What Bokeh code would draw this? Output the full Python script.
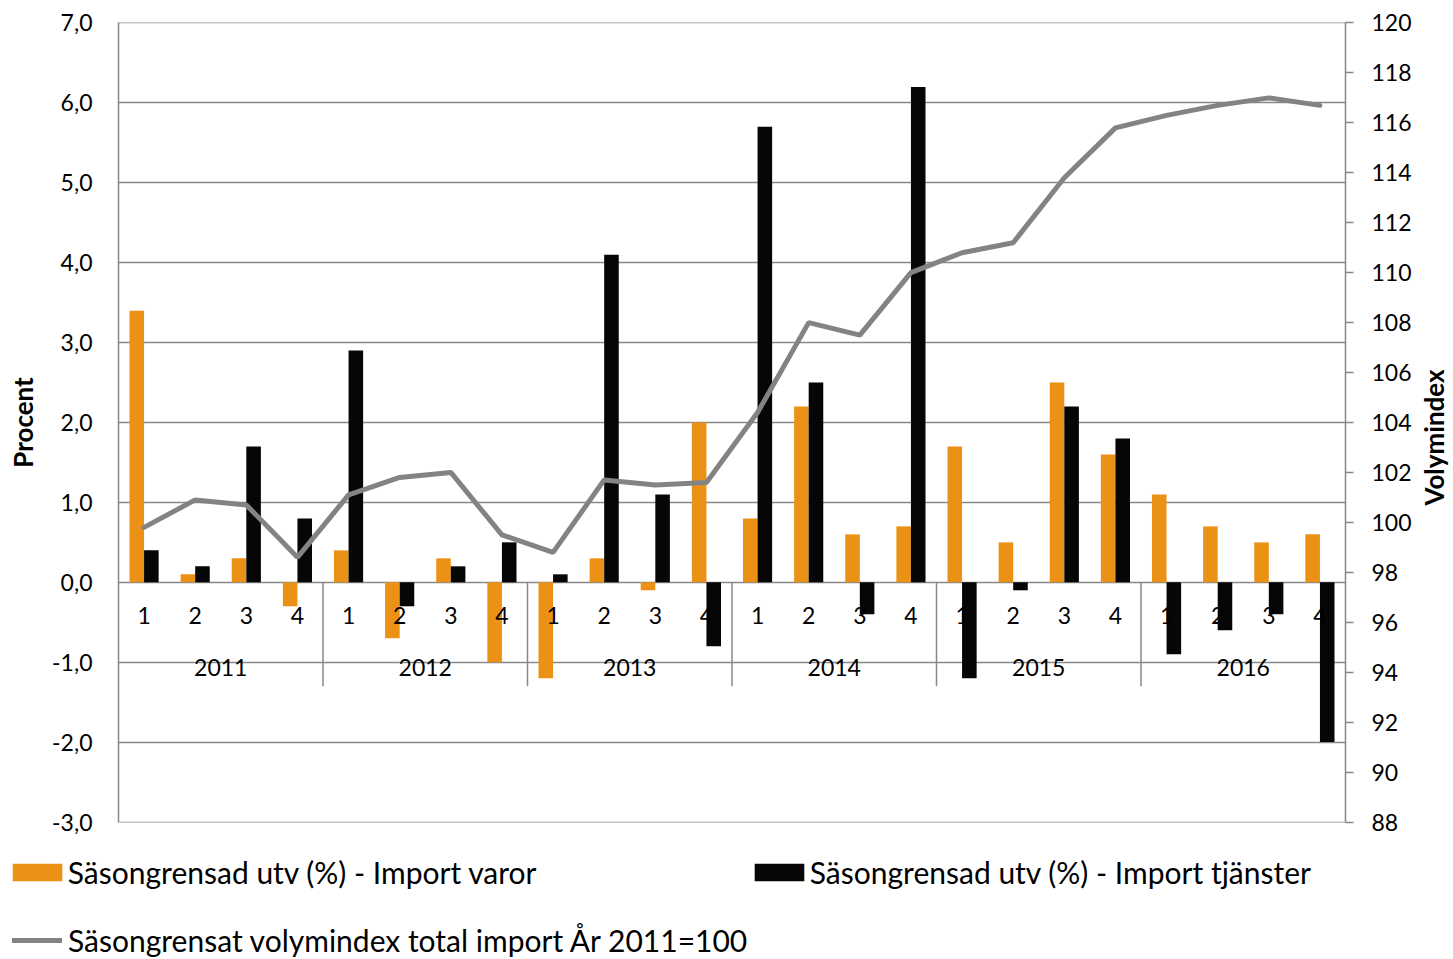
import math
import numpy as np
from bokeh.plotting import figure
from bokeh.layouts import column, row
from bokeh.models import Range1d, LinearAxis, FixedTicker, ColumnDataSource, Legend, LegendItem
from bokeh.core.properties import value
from bokeh.embed import file_html
from bokeh.resources import INLINE

# ---------------- data ----------------
years = ["2011", "2012", "2013", "2014", "2015", "2016"]
quarters = ["1", "2", "3", "4"]
varor = [3.4, 0.1, 0.3, -0.3,
         0.4, -0.7, 0.3, -1.0,
         -1.2, 0.3, -0.1, 2.0,
         0.8, 2.2, 0.6, 0.7,
         1.7, 0.5, 2.5, 1.6,
         1.1, 0.7, 0.5, 0.6]
tjanster = [0.4, 0.2, 1.7, 0.8,
            2.9, -0.3, 0.2, 0.5,
            0.1, 4.1, 1.1, -0.8,
            5.7, 2.5, -0.4, 6.2,
            -1.2, -0.1, 2.2, 1.8,
            -0.9, -0.6, -0.4, -2.0]
volymindex = [99.8, 100.9, 100.7, 98.6,
              101.1, 101.8, 102.0, 99.5,
              98.8, 101.7, 101.5, 101.6,
              104.4, 108.0, 107.5, 110.0,
              110.8, 111.2, 113.8, 115.8,
              116.3, 116.7, 117.0, 116.7]
left_ticks = [-3, -2, -1, 0, 1, 2, 3, 4, 5, 6, 7]
right_ticks = list(range(88, 121, 2))
left_title = "Procent"
right_title = "Volymindex"
label_varor = "Säsongrensad utv (%) - Import varor"
label_tjanster = "Säsongrensad utv (%) - Import tjänster"
label_volym = "Säsongrensat volymindex total import År 2011=100"

# ---------------- style ----------------
ORANGE = "#EB9216"
BLACK = "#060606"
LINE_GREY = "#838383"
GRID = "#898989"
FONT = "Lato"
BAR_W = 0.285
SEP_BOTTOM = -1.3
PAD = 0.006  # tiny range padding so the edge grid lines stay visible

n = len(varor)
xs = np.arange(n)
q_labels = [q for _ in years for q in quarters]
year_x = [i * len(quarters) + (len(quarters) - 1) / 2 for i in range(len(years))]
sep_x = [i * len(quarters) - 0.5 for i in range(1, len(years))]

lmin, lmax = left_ticks[0], left_ticks[-1]
rmin, rmax = right_ticks[0], right_ticks[-1]
rpad = PAD * (rmax - rmin) / (lmax - lmin)

src = ColumnDataSource(dict(x=xs, xo=xs - BAR_W / 2, xb=xs + BAR_W / 2,
                            varor=varor, tjanster=tjanster, vol=volymindex, q=q_labels))
ysrc = ColumnDataSource(dict(x=year_x, t=years))

# ---------------- main chart ----------------
p = figure(width=1418, height=836, x_range=Range1d(-0.5, n - 0.5),
           y_range=Range1d(lmin - PAD, lmax + PAD),
           output_backend="svg", toolbar_location=None, x_axis_type=None,
           min_border_left=118, min_border_right=73, min_border_top=22, min_border_bottom=14)
p.extra_y_ranges = {"vol": Range1d(rmin - rpad, rmax + rpad)}
p.outline_line_color = None

p.ygrid.ticker = FixedTicker(ticks=left_ticks)
p.ygrid.grid_line_color = GRID
p.ygrid.grid_line_width = 1.5

yax = p.yaxis[0]
yax.ticker = FixedTicker(ticks=left_ticks)
yax.major_label_overrides = {t: f"{t:.1f}".replace(".", ",") for t in left_ticks}
yax.major_tick_out = 0
yax.major_tick_in = 0
yax.minor_tick_out = 0
yax.minor_tick_in = 0
yax.major_label_standoff = 26
yax.major_label_text_font = FONT
yax.major_label_text_font_size = "23px"
yax.major_label_text_color = "#000000"
yax.axis_line_color = GRID
yax.axis_line_width = 1.5
yax.axis_label = left_title
yax.axis_label_text_font = FONT
yax.axis_label_text_font_style = "bold"
yax.axis_label_text_font_size = "26px"
yax.axis_label_text_color = "#000000"
yax.axis_label_standoff = 10

rax = LinearAxis(y_range_name="vol", ticker=FixedTicker(ticks=right_ticks))
rax.major_tick_out = 8
rax.major_tick_in = 0
rax.minor_tick_out = 0
rax.minor_tick_in = 0
rax.major_tick_line_color = GRID
rax.major_tick_line_width = 1.5
rax.axis_line_color = GRID
rax.axis_line_width = 1.5
rax.major_label_standoff = 18
rax.major_label_text_font = FONT
rax.major_label_text_font_size = "23px"
rax.major_label_text_color = "#000000"
p.add_layout(rax, "right")

# separators of the category axis
p.segment(x0=sep_x, y0=0, x1=sep_x, y1=SEP_BOTTOM, line_color=GRID, line_width=1.5)

bar_or = dict(fill_color=ORANGE, line_color=None)
bar_bl = dict(fill_color=BLACK, line_color=None)
line_st = dict(line_color=LINE_GREY, line_width=5, line_cap="round")

p.vbar(x="xo", top="varor", bottom=0, width=BAR_W, source=src, **bar_or)
p.vbar(x="xb", top="tjanster", bottom=0, width=BAR_W, source=src, **bar_bl)

p.text(x="x", y=0, text="q", source=src, y_offset=33, text_align="center",
       text_baseline="middle", text_font=value(FONT), text_font_size="23px", text_color="#000000")
p.text(x="x", y=0, text="t", source=ysrc, y_offset=85, text_align="center",
       text_baseline="middle", text_font=value(FONT), text_font_size="23px", text_color="#000000")

p.line(x="x", y="vol", source=src, y_range_name="vol", **line_st)

# ---------------- right axis title strip (reads bottom-to-top) ----------------
tf = figure(width=35, height=836, x_range=Range1d(0, 1), y_range=Range1d(0, 1),
            output_backend="svg", toolbar_location=None, x_axis_type=None, y_axis_type=None,
            min_border_left=0, min_border_right=0, min_border_top=0, min_border_bottom=0)
tf.outline_line_color = None
tf.text(x=[0.5], y=[0.5], text=[right_title], angle=math.pi / 2, x_offset=-2, y_offset=19,
        text_align="center", text_baseline="middle", text_font=value(FONT),
        text_font_style="bold", text_font_size="26px", text_color="#000000")

# ---------------- legend strip (own figure so the legend is not clipped) ----------------
lg = figure(width=1453, height=123, x_range=Range1d(100, 101), y_range=Range1d(100, 101),
            output_backend="svg", toolbar_location=None, x_axis_type=None, y_axis_type=None,
            min_border_left=0, min_border_right=0, min_border_top=0, min_border_bottom=0)
lg.outline_line_color = None
for fig in (p, tf, lg):
    if "frame_align" in fig.properties():
        fig.frame_align = False

k_or = lg.vbar(x="xo", top="varor", bottom=0, width=BAR_W, source=src, **bar_or)
k_bl = lg.vbar(x="xb", top="tjanster", bottom=0, width=BAR_W, source=src, **bar_bl)
k_ln = lg.line(x="x", y="vol", source=src, **line_st)

common = dict(orientation="horizontal", glyph_height=22, padding=0, margin=0,
              spacing=0, border_line_color=None, background_fill_alpha=0,
              label_text_font=FONT, label_text_font_size="30px", label_text_color="#000000")

leg_a = Legend(items=[LegendItem(label=label_varor, renderers=[k_or]),
                      LegendItem(label=label_tjanster, renderers=[k_bl])],
               location=(5.8, 67), glyph_width=62, label_standoff=0, label_width=680,
               label_height=40, **common)
leg_b = Legend(items=[LegendItem(label=label_volym, renderers=[k_ln])],
               location=(12, 1), glyph_width=50, label_standoff=6, label_height=30, **common)
lg.add_layout(leg_a)
lg.add_layout(leg_b)

layout = column(row(p, tf, spacing=0), lg, spacing=0)
open("out.html", "w").write(file_html(layout, INLINE))
